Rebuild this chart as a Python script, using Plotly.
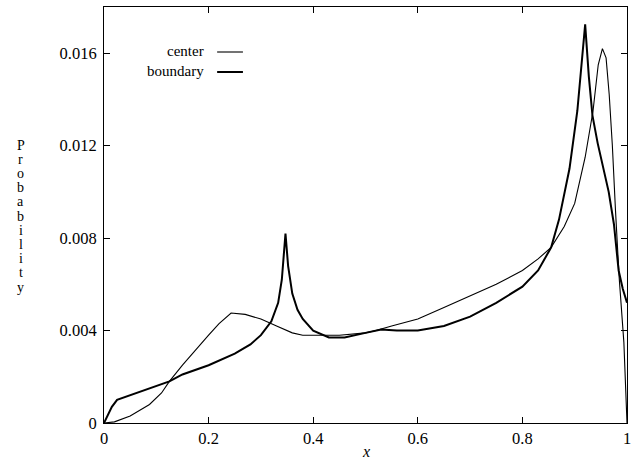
import plotly.graph_objects as go

# ---- data ----
center_x = [0, 0.02, 0.05, 0.087, 0.11, 0.125, 0.15, 0.18, 0.2, 0.22, 0.243, 0.27, 0.3, 0.33,
            0.36, 0.38, 0.4, 0.45, 0.5, 0.52, 0.55, 0.6, 0.65, 0.7, 0.75, 0.8, 0.83, 0.855,
            0.88, 0.9, 0.92, 0.935, 0.945, 0.953, 0.96, 0.966, 0.972, 0.978, 0.985, 0.994, 1.0]
center_y = [0, 0.00005, 0.0003, 0.0008, 0.0013, 0.0018, 0.0025, 0.0033, 0.0038, 0.0043, 0.00476,
            0.0047, 0.0045, 0.0042, 0.0039, 0.0038, 0.0038, 0.0038, 0.0039, 0.0040, 0.0042,
            0.0045, 0.0050, 0.0055, 0.0060, 0.0066, 0.0071, 0.0076, 0.0085, 0.0095, 0.0115,
            0.0135, 0.0155, 0.0162, 0.0158, 0.0142, 0.0120, 0.0092, 0.0063, 0.0035, 0.0]

boundary_x = [0, 0.008, 0.015, 0.025, 0.05, 0.1, 0.125, 0.15, 0.2, 0.25, 0.28, 0.30, 0.32,
              0.333, 0.34, 0.347, 0.352, 0.36, 0.37, 0.38, 0.40, 0.43, 0.46, 0.5, 0.53, 0.56,
              0.6, 0.65, 0.7, 0.75, 0.8, 0.83, 0.855, 0.87, 0.89, 0.905, 0.915, 0.920, 0.927,
              0.934, 0.944, 0.955, 0.965, 0.975, 0.984, 0.992, 1.0]
boundary_y = [0, 0.0004, 0.0007, 0.001, 0.0012, 0.0016, 0.0018, 0.0021, 0.0025, 0.0030, 0.0034,
              0.0038, 0.0044, 0.0052, 0.0062, 0.0082, 0.0068, 0.0056, 0.0049, 0.0045, 0.0040,
              0.0037, 0.0037, 0.0039, 0.00405, 0.0040, 0.0040, 0.0042, 0.0046, 0.0052, 0.0059,
              0.0066, 0.0076, 0.0088, 0.0110, 0.0135, 0.0160, 0.01725, 0.0150, 0.0133, 0.0121,
              0.0110, 0.0100, 0.0086, 0.0066, 0.0058, 0.0052]

x_tickvals = [0, 0.2, 0.4, 0.6, 0.8, 1]
x_ticktext = ["0", "0.2", "0.4", "0.6", "0.8", "1"]
y_tickvals = [0, 0.004, 0.008, 0.012, 0.016]
y_ticktext = ["0", "0.004", "0.008", "0.012", "0.016"]

series_names = ["center", "boundary"]
series_widths = [1.1, 2.0]
ylabel = "Probability"
xlabel = "x"

FONT = "Liberation Serif"

fig = go.Figure()
fig.add_trace(go.Scatter(x=center_x, y=center_y, mode="lines", name=series_names[0],
                         line=dict(color="black", width=series_widths[0]), showlegend=False))
fig.add_trace(go.Scatter(x=boundary_x, y=boundary_y, mode="lines", name=series_names[1],
                         line=dict(color="black", width=series_widths[1]), showlegend=False))

axis_common = dict(showgrid=False, zeroline=False, showline=True, linecolor="black",
                   linewidth=1, ticks="inside", ticklen=6, tickcolor="black",
                   mirror="ticks", tickfont=dict(family=FONT, size=16.5, color="black"))

fig.update_xaxes(range=[0, 1], tickvals=x_tickvals, ticktext=x_ticktext, **axis_common)
fig.update_yaxes(range=[0, 0.018], tickvals=y_tickvals, ticktext=y_ticktext,
                 ticklabelstandoff=3, **axis_common)

W, H = 636, 461
L, R, T, B = 104, 5, 7, 38
pw, ph = W - L - R, H - T - B

def px_to_paper_x(px):
    return (px - L) / pw

def px_to_paper_y(py):
    return (H - B - py) / ph

annotations = []
# vertical stacked y-axis label
for i, ch in enumerate(ylabel):
    annotations.append(dict(text=ch, x=px_to_paper_x(20), y=px_to_paper_y(145 + i * 14.2),
                            xref="paper", yref="paper", showarrow=False,
                            xanchor="center", yanchor="middle",
                            font=dict(family=FONT, size=14, color="black")))
# x label
annotations.append(dict(text="<i>" + xlabel + "</i>", x=0.5, y=px_to_paper_y(451),
                        xref="paper", yref="paper", showarrow=False,
                        xanchor="center", yanchor="middle",
                        font=dict(family=FONT, size=16, color="black")))

# legend (text right-aligned, line sample on the right)
shapes = []
for i, name in enumerate(series_names):
    ypx = 51 + i * 20
    annotations.append(dict(text=name, x=px_to_paper_x(207), y=px_to_paper_y(ypx),
                            xref="paper", yref="paper", showarrow=False,
                            xanchor="right", yanchor="middle",
                            font=dict(family=FONT, size=15, color="black")))
    shapes.append(dict(type="line", xref="paper", yref="paper",
                       x0=px_to_paper_x(218), x1=px_to_paper_x(244),
                       y0=px_to_paper_y(ypx + 1), y1=px_to_paper_y(ypx + 1),
                       line=dict(color="black", width=series_widths[i])))

fig.update_layout(width=W, height=H, margin=dict(l=L, r=R, t=T, b=B, pad=0),
                  plot_bgcolor="white", paper_bgcolor="white",
                  annotations=annotations, shapes=shapes,
                  font=dict(family=FONT, color="black"))

fig.write_html("out.html", config={"displayModeBar": False},
               post_script="document.body.style.margin='0';document.body.style.overflow='hidden';")
